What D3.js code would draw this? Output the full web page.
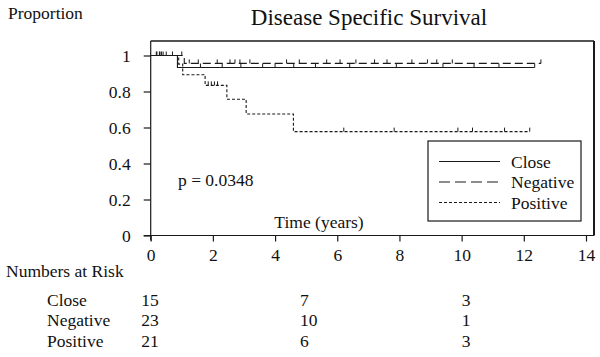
<!DOCTYPE html>
<html><head><meta charset="utf-8">
<script src="https://cdn.jsdelivr.net/npm/d3@7"></script>
<style>body{margin:0;background:#fff}svg{display:block}text{font-family:"Liberation Serif","Times New Roman",serif;fill:#111}</style>
</head><body>
<script>
// ---- data ----
const title = "Disease Specific Survival";
const yLabel = "Proportion";
const xLabel = "Time (years)";
const pText = "p = 0.0348";
const categories = ["Close", "Negative", "Positive"];
const xTicks = [0, 2, 4, 6, 8, 10, 12, 14];
const yTicks = [0, 0.2, 0.4, 0.6, 0.8, 1];

// step curves: event times and survival after each step; last follow-up time
const closeTimes = [0, 0.86];
const closeSurv = [1, 0.933];
const closeEnd = 12.35;
const negativeTimes = [0, 1.08];
const negativeSurv = [1, 0.956];
const negativeEnd = 12.55;
const positiveTimes = [0, 0.9, 1.03, 1.75, 2.45, 3.07, 4.59];
const positiveSurv = [1, 0.952, 0.893, 0.834, 0.757, 0.675, 0.577];
const positiveEnd = 12.19;

// censoring marks (years)
const closeCensor = [0.35, 1.6, 2.3, 2.9, 3.6, 4.0, 4.6, 5.3, 6.4, 7.9, 9.4, 10.4, 11.2, 12.35];
const negativeCensor = [0.18, 0.28, 1.0, 1.24, 1.53, 2.14, 2.55, 2.71, 2.87, 3.19, 4.37, 4.78,
  5.66, 6.09, 6.6, 7.2, 7.6, 8.4, 8.9, 9.2, 9.7, 12.55];
const positiveCensor = [0.2, 0.3, 0.4, 0.5, 0.7, 1.85, 1.95, 2.05, 2.15,
  6.21, 7.83, 9.88, 10.35, 11.38, 12.19];

// numbers at risk
const riskTitle = "Numbers at Risk";
const riskColumns = [-0.3, 4.8, 10.0];
const closeRisk = [15, 7, 3];
const negativeRisk = [23, 10, 1];
const positiveRisk = [21, 6, 3];

// ---- drawing ----
const W = 600, H = 357;
const svg = d3.select("body").append("svg").attr("width", W).attr("height", H);
const x = d3.scaleLinear().domain([0, 14]).range([150.7, 586]);
const y = d3.scaleLinear().domain([0, 1]).range([235.5, 55.5]);
const boxL = 150.7, boxR = 594, boxT = 41, boxB = 235.5;
const ink = "#1a1a1a";

svg.append("text").attr("x", 369).attr("y", 25).attr("text-anchor", "middle")
  .style("font-size", "23px").text(title);
svg.append("text").attr("x", 8).attr("y", 19).style("font-size", "17.5px").text(yLabel);

// box
svg.append("path").attr("d", `M${boxL},${boxT}H${boxR}`).attr("stroke", ink).attr("stroke-width", 1.3).attr("fill", "none");
svg.append("path").attr("d", `M${boxR},${boxT}V${boxB}`).attr("stroke", ink).attr("stroke-width", 2).attr("fill", "none");

// axes
const yAxis = d3.axisLeft(y).tickValues(yTicks).tickSize(7).tickPadding(13)
  .tickFormat(d => d === 0 ? "0" : d === 1 ? "1" : d3.format(".1f")(d));
const gy = svg.append("g").attr("transform", `translate(${boxL},0)`).call(yAxis);
gy.select(".domain").attr("d", `M0,${boxT}V${boxB + 5}`);
const xAxis = d3.axisBottom(x).tickValues(xTicks).tickSize(6).tickPadding(7);
const gx = svg.append("g").attr("transform", `translate(0,${boxB})`).call(xAxis);
gx.select(".domain").attr("d", `M${boxL - 7},0H${boxR}`);
[gx, gy].forEach(g => {
  g.selectAll("path,line").attr("stroke", ink).attr("stroke-width", 1.2);
  g.selectAll("text").style("font-size", "17.5px").style("font-family", '"Liberation Serif",serif').attr("fill", "#111");
});
gx.selectAll(".tick text").attr("dy", "0.71em");

// curves
const series = [
  {times: closeTimes, surv: closeSurv, end: closeEnd, censor: closeCensor, dash: null},
  {times: negativeTimes, surv: negativeSurv, end: negativeEnd, censor: negativeCensor, dash: "8,4"},
  {times: positiveTimes, surv: positiveSurv, end: positiveEnd, censor: positiveCensor, dash: "3,2"}
];
const line = d3.line().x(d => x(d[0])).y(d => y(d[1])).curve(d3.curveStepAfter);
const survAt = (s, t) => { let v = s.surv[0]; s.times.forEach((tt, i) => { if (tt <= t) v = s.surv[i]; }); return v; };
series.forEach(s => {
  const pts = s.times.map((t, i) => [t, s.surv[i]]);
  pts.push([s.end, s.surv[s.surv.length - 1]]);
  svg.append("path").attr("d", line(pts)).attr("fill", "none").attr("stroke", ink)
    .attr("stroke-width", 1.1).attr("stroke-dasharray", s.dash);
  svg.append("g").selectAll("line").data(s.censor).join("line")
    .attr("x1", d => x(d)).attr("x2", d => x(d))
    .attr("y1", d => y(survAt(s, d))).attr("y2", d => y(survAt(s, d)) - 4)
    .attr("stroke", ink).attr("stroke-width", 1);
});

svg.append("text").attr("x", 178).attr("y", 186).style("font-size", "17.5px").text(pText);
svg.append("text").attr("x", 319).attr("y", 228).attr("text-anchor", "middle").style("font-size", "17.5px").text(xLabel);

// legend
const lg = svg.append("g");
lg.append("rect").attr("x", 428).attr("y", 141).attr("width", 153).attr("height", 80)
  .attr("fill", "#fff").attr("stroke", ink).attr("stroke-width", 1.2);
const legendDash = [null, "11,5", "3,2"];
categories.forEach((c, i) => {
  const cy = 161.5 + i * 20.5;
  lg.append("line").attr("x1", 439).attr("x2", 500).attr("y1", cy).attr("y2", cy)
    .attr("stroke", ink).attr("stroke-width", 1.1).attr("stroke-dasharray", legendDash[i]);
  lg.append("text").attr("x", 511).attr("y", cy + 6).style("font-size", "17.5px").text(c);
});

// risk table
svg.append("text").attr("x", 6).attr("y", 277).style("font-size", "17.5px").text(riskTitle);
const riskRows = [closeRisk, negativeRisk, positiveRisk];
categories.forEach((c, i) => {
  const by = 305.5 + i * 20.8;
  svg.append("text").attr("x", 47).attr("y", by).style("font-size", "17.5px").text(c);
  svg.append("g").selectAll("text").data(riskRows[i]).join("text")
    .attr("x", (d, j) => x(riskColumns[j])).attr("y", by).style("font-size", "17.5px").text(d => d);
});
</script>
</body></html>
